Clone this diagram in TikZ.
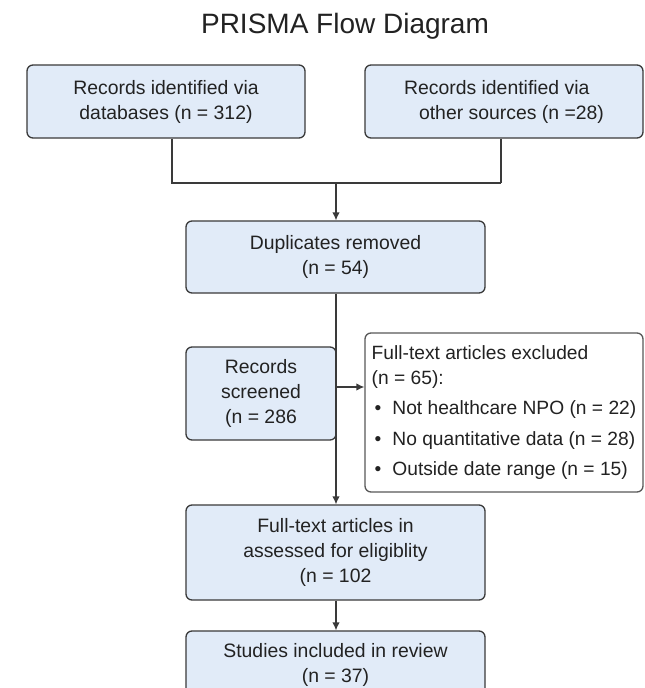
\documentclass[tikz,border=0pt]{standalone}
\usepackage{fontspec}
\setmainfont{Liberation Sans}
\usetikzlibrary{arrows.meta,calc}
\definecolor{boxfill}{HTML}{E1EBF8}
\definecolor{boxline}{HTML}{3A3A3A}
\definecolor{txt}{HTML}{222222}
\begin{document}
\begin{tikzpicture}[x=1pt,y=-1pt,
  bluebox/.style={draw=boxline,fill=boxfill,line width=1.3pt,rounded corners=6pt,
    inner sep=0pt,align=center,text=txt,font=\fontsize{19.4}{25}\selectfont},
  whitebox/.style={draw=boxline!85,fill=white,line width=1.3pt,rounded corners=6pt,
    inner sep=0pt,align=left,text=txt,font=\fontsize{19.2}{25}\selectfont},
  conn/.style={draw=boxline,line width=1.3pt},
  arr/.style={conn,-{Latex[length=8pt,width=7.5pt]}}]
\clip (0,0) rectangle (645,688);
\fill[white] (0,0) rectangle (645,688);

\node[anchor=base,text=txt,font=\fontsize{28}{32}\selectfont] (title) at (345,33) {PRISMA Flow Diagram};

\node[bluebox,minimum width=278pt,minimum height=73pt] (L) at (166,101.5)
  {Records identified via\\databases (n = 312)};
\node[bluebox,align=left,minimum width=278pt,minimum height=73pt] (R) at (504,101.5)
  {Records identified via\\\hspace*{15pt}other sources (n =28)};

\node[bluebox,minimum width=299pt,minimum height=72pt] (Dup) at (335.5,257)
  {Duplicates removed\\(n = 54)};
\node[bluebox,minimum width=150pt,minimum height=93pt] (Scr) at (261,393.5)
  {Records\\screened\\(n = 286};
\node[whitebox,minimum width=278pt,minimum height=159pt] (Exc) at (504,412.5)
  {Full-text articles excluded\\(n = 65):\\[5pt]
   \hspace*{3pt}\textbullet\hspace{11pt}Not healthcare NPO (n = 22)\\[6pt]
   \hspace*{3pt}\textbullet\hspace{11pt}No quantitative data (n = 28)\\[5pt]
   \hspace*{3pt}\textbullet\hspace{11pt}Outside date range (n = 15)};
\node[bluebox,minimum width=299pt,minimum height=95pt] (Full) at (335.5,552.5)
  {Full-text articles in\\assessed for eligiblity\\(n = 102};
\node[bluebox,minimum width=299pt,minimum height=90pt] (Stu) at (335.5,676)
  {};
\node[text=txt,align=center,font=\fontsize{19.4}{25}\selectfont,anchor=north] (StuT) at (335.5,640)
  {Studies included in review\\(n = 37)};

\coordinate (j1) at (172,183);
\coordinate (j2) at (501,183);
\coordinate (jm) at (336,183);
\coordinate (ea) at (336,387);

\draw[conn] (L.south -| j1) |- (j2);
\draw[conn] (R.south -| j2) -- (j2);
\draw[arr] (jm) -- (Dup.north -| jm);
\draw[arr] (Dup.south -| jm) -- (Full.north -| jm);
\draw[arr] (ea) -- (ea -| Exc.west);
\draw[arr] (Full.south -| jm) -- (Stu.north -| jm);
\end{tikzpicture}
\end{document}
